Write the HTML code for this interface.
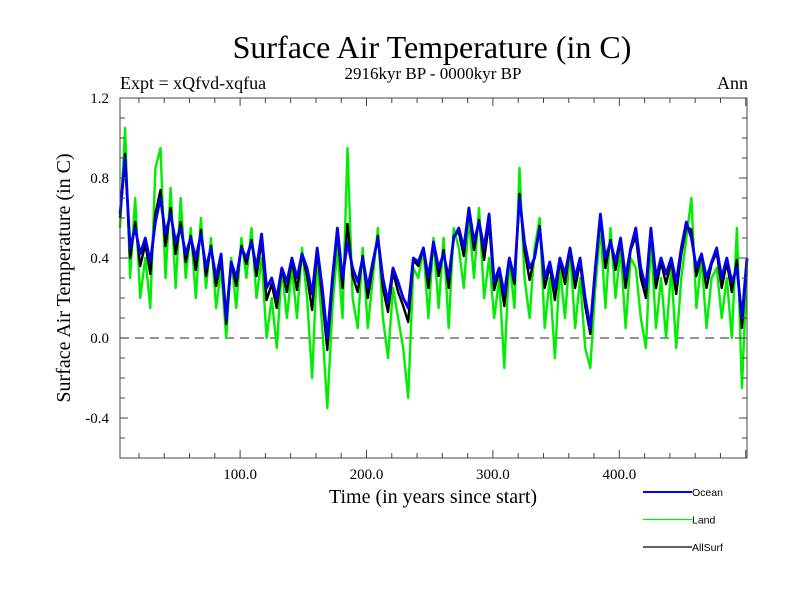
<!DOCTYPE html>
<html><head><meta charset="utf-8"><style>
body{margin:0;background:#fff}
svg text{font-family:"Liberation Serif",serif}
svg text.sans{font-family:"Liberation Sans",sans-serif}
</style></head><body>
<svg id="chart" width="800" height="600" xmlns="http://www.w3.org/2000/svg">
<text x="432" y="58" font-size="32" text-anchor="middle">Surface Air Temperature (in C)</text>
<text x="433" y="79" font-size="17" text-anchor="middle">2916kyr BP - 0000kyr BP</text>
<text x="120" y="89" font-size="18">Expt = xQfvd-xqfua</text>
<text x="748" y="89" font-size="18" text-anchor="end">Ann</text>
<text x="433" y="503" font-size="20" text-anchor="middle">Time (in years since start)</text>
<text transform="translate(70,278) rotate(-90)" font-size="20" text-anchor="middle">Surface Air Temperature (in C)</text>
<g id="plot"></g>
<g id="axes"></g>
<g id="legend"></g>
</svg>
<script>
const years0 = 5, yearStep = 4;
const xDomain = [5, 501];
const yDomain = [-0.6, 1.2];
const xTicks = [100, 200, 300, 400];
const xTickLabels = ["100.0", "200.0", "300.0", "400.0"];
const yTicks = [-0.4, 0.0, 0.4, 0.8, 1.2];
const yTickLabels = ["-0.4", "0.0", "0.4", "0.8", "1.2"];
const seriesNames = ["Land", "AllSurf", "Ocean"];
const land = [0.55,1.05,0.30,0.70,0.20,0.40,0.15,0.85,0.95,0.30,0.75,0.25,0.70,0.30,
0.55,0.20,0.60,0.25,0.50,0.15,0.35,0.00,0.40,0.15,0.50,0.30,0.55,0.20,0.40,
0.00,0.20,-0.05,0.35,0.10,0.35,0.10,0.45,0.20,-0.20,0.40,0.05,-0.35,0.15,0.45,
0.10,0.95,0.20,0.05,0.45,0.05,0.30,0.55,0.10,-0.10,0.25,0.10,-0.05,-0.30,0.35,
0.30,0.45,0.10,0.50,0.15,0.50,0.05,0.55,0.45,0.25,0.60,0.30,0.65,0.20,0.40,
0.10,0.30,-0.15,0.40,0.15,0.85,0.30,0.10,0.45,0.60,0.05,0.30,-0.10,0.35,0.10,
0.45,0.05,0.30,-0.05,-0.15,0.25,0.55,0.15,0.55,0.20,0.45,0.05,0.40,0.35,0.10,
-0.05,0.50,0.05,0.30,0.00,0.35,-0.05,0.30,0.50,0.70,0.15,0.40,0.05,0.30,0.35,
0.10,0.30,0.00,0.55,-0.25,0.35];
const ocean = [0.62,0.90,0.45,0.55,0.42,0.50,0.38,0.58,0.70,0.52,0.62,0.48,0.55,0.42,
0.50,0.40,0.52,0.35,0.45,0.30,0.42,0.10,0.38,0.30,0.45,0.40,0.48,0.35,0.52,
0.25,0.30,0.20,0.35,0.28,0.40,0.30,0.42,0.35,0.22,0.45,0.25,0.00,0.30,0.55,
0.30,0.48,0.35,0.28,0.40,0.25,0.38,0.50,0.30,0.18,0.35,0.28,0.20,0.15,0.40,
0.38,0.45,0.30,0.48,0.35,0.42,0.30,0.50,0.55,0.45,0.65,0.48,0.58,0.45,0.62,
0.28,0.35,0.22,0.40,0.30,0.70,0.48,0.35,0.40,0.55,0.30,0.38,0.25,0.40,0.32,
0.45,0.30,0.40,0.20,0.05,0.35,0.62,0.40,0.48,0.38,0.50,0.30,0.45,0.55,0.35,
0.25,0.55,0.30,0.40,0.32,0.40,0.28,0.45,0.58,0.50,0.35,0.42,0.30,0.38,0.45,
0.30,0.40,0.28,0.35,0.10,0.40];
const allsurf = [0.60,0.92,0.40,0.58,0.36,0.47,0.32,0.62,0.74,0.46,0.65,0.42,0.58,0.38,
0.51,0.34,0.54,0.31,0.46,0.26,0.40,0.07,0.38,0.26,0.46,0.37,0.49,0.31,0.49,
0.19,0.27,0.15,0.35,0.23,0.39,0.24,0.42,0.31,0.14,0.44,0.20,-0.06,0.27,0.53,
0.25,0.57,0.31,0.23,0.41,0.20,0.36,0.51,0.25,0.13,0.33,0.23,0.16,0.08,0.39,
0.36,0.45,0.25,0.48,0.31,0.44,0.25,0.51,0.53,0.41,0.64,0.44,0.59,0.39,0.58,
0.24,0.34,0.16,0.40,0.27,0.72,0.44,0.29,0.41,0.56,0.25,0.36,0.19,0.39,0.27,
0.45,0.25,0.38,0.16,0.02,0.33,0.61,0.35,0.49,0.34,0.49,0.25,0.44,0.51,0.30,
0.20,0.54,0.25,0.38,0.27,0.39,0.22,0.42,0.56,0.54,0.31,0.42,0.25,0.37,0.43,
0.25,0.38,0.23,0.39,0.05,0.39];
const colors = {Land:"#00ee00", AllSurf:"#000000", Ocean:"#0000ee"};
const widths = {Land:2.4, AllSurf:2.4, Ocean:2.8};
const L=120,R=747,T=98,B=458;
const NS="http://www.w3.org/2000/svg";
function xs(v){return L+(v-xDomain[0])/(xDomain[1]-xDomain[0])*(R-L);}
function ys(v){return B-(v-yDomain[0])/(yDomain[1]-yDomain[0])*(B-T);}
function mk(tag,attrs,parent){const e=document.createElementNS(NS,tag);for(const k in attrs)e.setAttribute(k,attrs[k]);parent.appendChild(e);return e;}
const plot=document.getElementById('plot'), axes=document.getElementById('axes'), legend=document.getElementById('legend');
const zl=mk('line',{x1:L,x2:R,y1:ys(0),y2:ys(0),stroke:'#555','stroke-width':1.2,'stroke-dasharray':'9,6'},plot);


const dataMap={Land:land,AllSurf:allsurf,Ocean:ocean};
seriesNames.forEach(n=>{
  const d=dataMap[n].map((v,i)=>(i?'L':'M')+xs(years0+i*yearStep).toFixed(1)+','+ys(v).toFixed(1)).join('');
  const p=mk('path',{d:d,fill:'none',stroke:colors[n],'stroke-width':widths[n],'stroke-linejoin':'round'},plot);
  
  
});
const frame=mk('rect',{x:L,y:T,width:R-L,height:B-T,fill:'none',stroke:'#444','stroke-width':1},axes);


for(let v=20;v<=500;v+=20){const x=xs(v);const len=(v%100===0)?8:5;
  mk('line',{x1:x,x2:x,y1:B,y2:B-len,stroke:'#444'},axes);
  mk('line',{x1:x,x2:x,y1:T,y2:T+len,stroke:'#444'},axes);}
for(let k=-5;k<=11;k++){const v=k/10;const y=ys(v);const len=(k%4===0)?8:5;
  mk('line',{x1:L,x2:L+len,y1:y,y2:y,stroke:'#444'},axes);
  mk('line',{x1:R,x2:R-len,y1:y,y2:y,stroke:'#444'},axes);}
xTicks.forEach((v,i)=>{const t=mk('text',{x:xs(v),y:B+21,'font-size':15,'text-anchor':'middle'},axes);t.textContent=xTickLabels[i];
  
  });
yTicks.forEach((v,i)=>{const t=mk('text',{x:L-11,y:ys(v)+5,'font-size':15,'text-anchor':'end'},axes);t.textContent=yTickLabels[i];
  
  });
["Ocean","Land","AllSurf"].forEach((n,i)=>{const y=492+i*27.5;
  const g=mk('g',{},legend);
  
  
  mk('line',{x1:643,x2:692,y1:y,y2:y,stroke:colors[n],'stroke-width':n==='Ocean'?2:1.3},g);
  const t=mk('text',{x:692,y:y+4,'font-size':10.5,'class':'sans'},g);t.textContent=n;});
</script>
</body></html>
